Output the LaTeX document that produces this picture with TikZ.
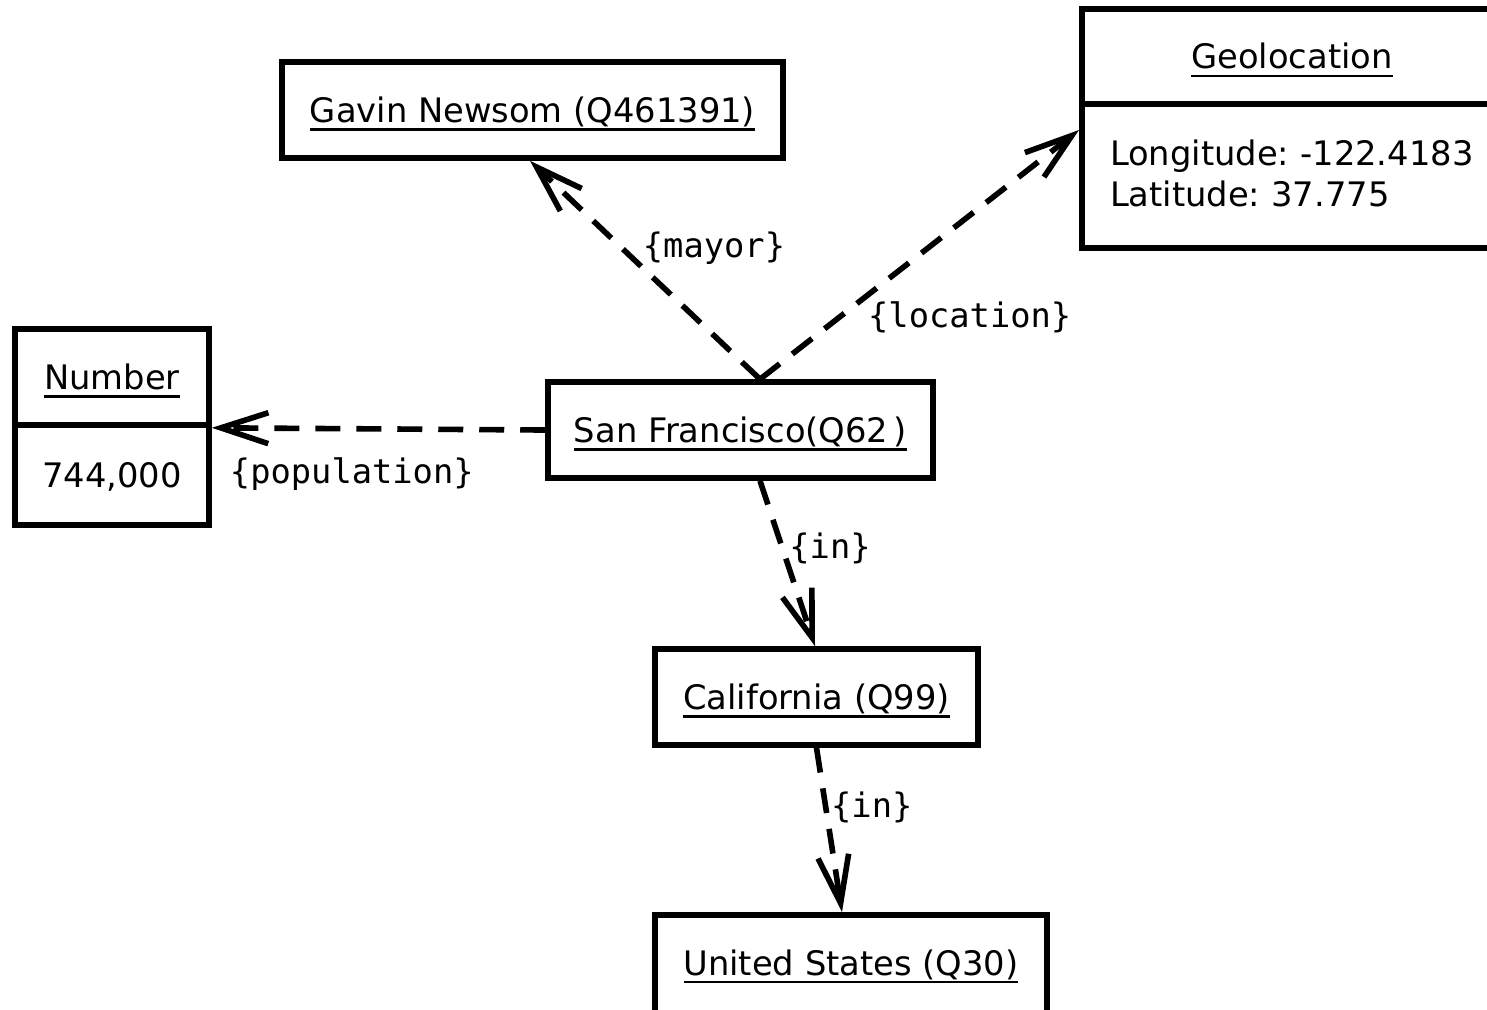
\documentclass[tikz,border=0pt]{standalone}
\usepackage{fontspec}
\setmainfont{DejaVu Sans}
\setmonofont{DejaVu Sans Mono}
\usetikzlibrary{arrows.meta,positioning,calc}
\frenchspacing
\newcommand{\obj}[1]{%
  \setbox0\hbox{#1}\rlap{\rule[-0.165cm]{\wd0}{0.05cm}}\box0}

\begin{document}
\begin{tikzpicture}[x=0.02cm,y=-0.02cm,
	box/.style={draw,line width=3.2pt,inner sep=0pt,font=\fontsize{19.2}{23.6}\selectfont},
	entity/.style={box,minimum height=1.92cm,text height=0.49cm,text depth=0pt},
	rel/.style={-{Straight Barb[length=0.95cm,width=0.62cm]},line width=3.2pt,dash pattern=on 0.5cm off 0.32cm},
	lbl/.style={font=\ttfamily\fontsize{19.2}{23.6}\selectfont,inner sep=0pt}]
					\useasboundingbox (0,0) rectangle (1487,1009);
					%OBJECTS
					\node[entity,minimum width=10.02cm] (gavin) at (532.5,110) {\obj{Gavin Newsom (Q461391)}};
					\node[entity,minimum width=8.4cm,minimum height=1.9cm,outer sep=0pt,anchor=west] (geotitle) at (1082,56.5) {\obj{Geolocation}};
					\node[box,minimum height=2.88cm,inner xsep=0.56cm,text width=7.8cm,text depth=0.95cm,align=left,outer sep=0pt,anchor=north west] (geobody) at (geotitle.south west) {Longitude: -122.4183\\Latitude: 37.775};
					\node[entity,minimum width=3.88cm] (numtitle) at (112,377) {\obj{Number}};
					\node[entity,minimum width=3.88cm,minimum height=2cm] (numbody) at (112,475) {744,000};
					\node[entity,minimum width=7.7cm] (sf) at (740.5,430) {\obj{San Francisco(Q62\,)}};
					\node[entity,minimum width=6.46cm] (calif) at (816.5,697) {\obj{California (Q99)}};
					\node[entity,minimum width=7.84cm,minimum height=2.1cm,text depth=0.18cm,anchor=north] (usa) at (851,912) {\obj{United States (Q30)}};
					%RELATIONS
					\draw[rel] ([xshift=0.39cm]sf.north) -- ([xshift=-0.05cm]gavin.south) node[lbl,pos=0.6,xshift=1.84cm]{\{mayor\}};
					\draw[rel] ([xshift=0.39cm]sf.north) -- ([xshift=-0.06cm,yshift=-0.52cm]geobody.north west) node[lbl,pos=0.25,xshift=2.6cm]{\{location\}};
					\draw[rel] (sf.west) -- (numtitle.south east) node[lbl,pos=0.58,yshift=-0.9cm]{\{population\}};
					\draw[rel] ([xshift=0.39cm]sf.south) -- ([xshift=-0.03cm]calif.north) node[lbl,pos=0.41,xshift=0.95cm]{\{in\}};
					\draw[rel] (calif.south) -- ([xshift=-0.18cm]usa.north) node[lbl,pos=0.365,xshift=0.92cm]{\{in\}};
	  \end{tikzpicture}
\end{document}
